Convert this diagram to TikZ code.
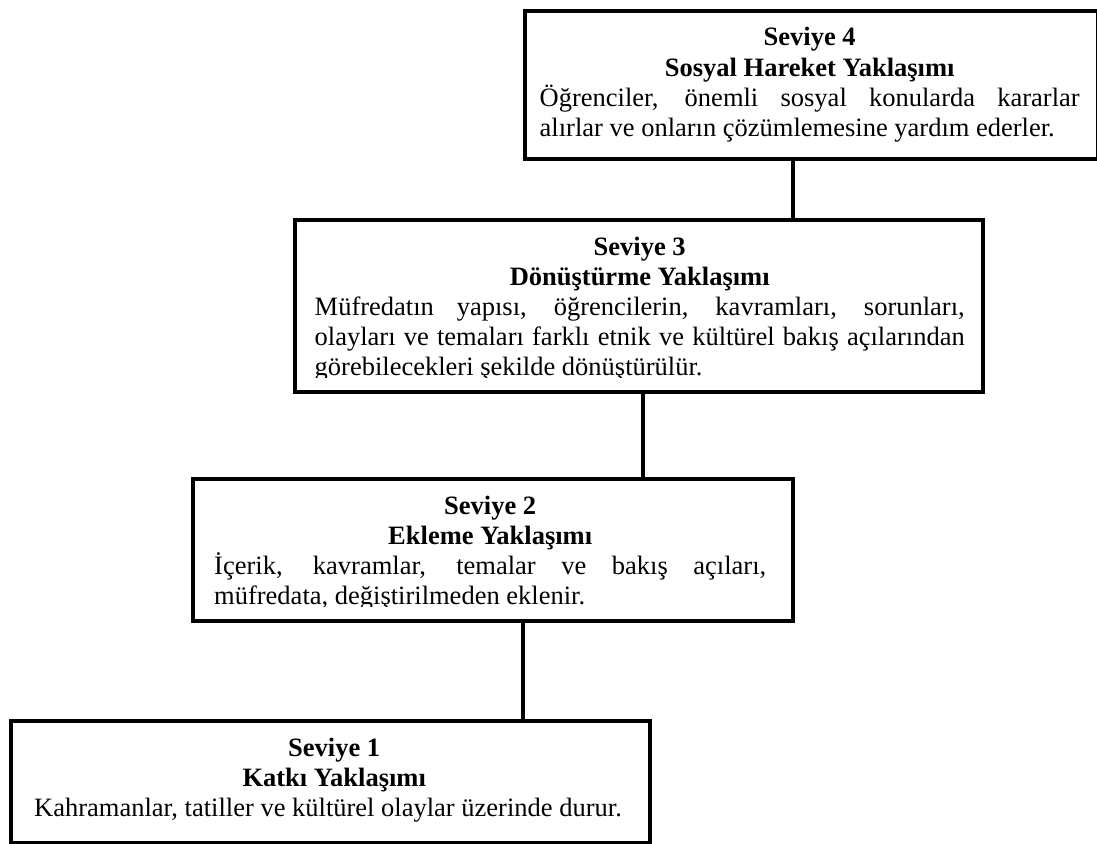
\documentclass[tikz,border=0pt]{standalone}
\usepackage{fontspec}
\setmainfont{Liberation Serif}
\usetikzlibrary{calc}

\hyphenpenalty=10000
\exhyphenpenalty=10000

% box text: centred bold title of two lines, then a justified paragraph
\newcommand{\levelpar}[4]{\parbox[t]{#1}{{\centering\bfseries #2\\#3\par}#4}}

\tikzset{
  levelbox/.style={draw, rectangle, line width=4pt, anchor=north west, inner sep=0pt},
  leveltext/.style={anchor=base west, inner sep=0pt, font=\fontsize{26.5}{30}\selectfont},
  link/.style={line width=4.5pt},
}

\begin{document}
\begin{tikzpicture}[x=1pt, y=-1pt]
	\useasboundingbox (0,0) rectangle (1097,843);

	% the four levels
	\node[levelbox, minimum width=573pt, minimum height=148pt] (s4) at (523,9) {};
	\node[levelbox, minimum width=688pt, minimum height=172pt] (s3) at (293,218) {};
	\node[levelbox, minimum width=600pt, minimum height=142pt] (s2) at (191,477) {};
	\node[levelbox, minimum width=639pt, minimum height=122pt] (s1) at (9,719) {};

	\node[leveltext] (t4) at (539.5,46) {\levelpar{540pt}{Seviye 4}{Sosyal Hareket Yaklaşımı}{Öğrenciler, önemli sosyal konularda kararlar\linebreak alırlar ve onların çözümlemesine yardım ederler.}};
	\begin{scope}
		\clip (293,218) rectangle (981,377.5);
		\node[leveltext] (t3) at (314.5,255) {\levelpar{650pt}{Seviye 3}{Dönüştürme Yaklaşımı}{Müfredatın yapısı, öğrencilerin, kavramları, sorunları,\linebreak olayları ve temaları farklı etnik ve kültürel bakış açılarından\linebreak görebilecekleri şekilde dönüştürülür.}};
	\end{scope}
	\begin{scope}
		\clip (191,477) rectangle (791,606.5);
		\node[leveltext] (t2) at (214,514) {\levelpar{552pt}{Seviye 2}{Ekleme Yaklaşımı}{İçerik, kavramlar, temalar ve bakış açıları,\linebreak müfredata, değiştirilmeden eklenir.}};
	\end{scope}
	\node[leveltext] (t1) at (34,756) {\levelpar{600pt}{Seviye 1}{Katkı Yaklaşımı}{Kahramanlar, tatiller ve kültürel olaylar üzerinde durur.}};

	% connectors
	\coordinate (c43) at (793,0);
	\coordinate (c32) at (643,0);
	\coordinate (c21) at (523,0);
	\draw[link] (c43 |- s4.south) -- (c43 |- s3.north);
	\draw[link] (c32 |- s3.south) -- (c32 |- s2.north);
	\draw[link] (c21 |- s2.south) -- (c21 |- s1.north);
\end{tikzpicture}
\end{document}
